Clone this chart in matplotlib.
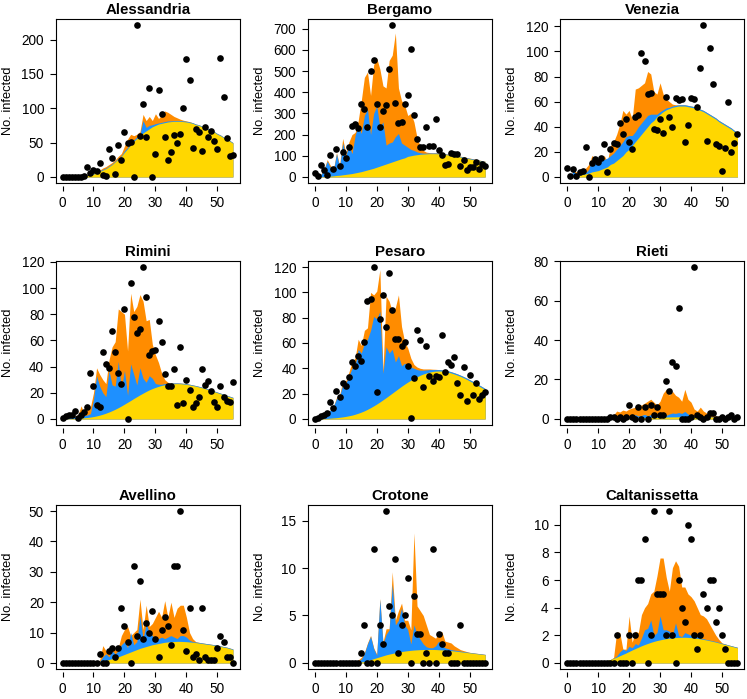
import numpy as np
import matplotlib
matplotlib.use("Agg")
import matplotlib.pyplot as plt

plt.rcParams['font.family'] = ['Liberation Sans', 'DejaVu Sans']

days = list(range(56))
x_ticks = [0, 10, 20, 30, 40, 50]

# ---------------- Alessandria ----------------
ales_pts = [0, 0, 0, 0, 0, 0, 0, 1, 15, 6,
            10, 9, 20, 3, 2, 40, 27, 4, 46, 25,
            66, 50, 51, 0, 221, 59, 106, 58, 129, 0,
            34, 126, 91, 58, 25, 37, 61, 50, 63, 100,
            172, 141, 42, 70, 65, 38, 72, 58, 67, 52,
            40, 173, 116, 56, 31, 32]
ales_yel = [0, 0, 0, 0, 0, 0, 0.5, 1, 2, 3,
            4, 6, 8, 10, 12, 15, 18, 22, 26, 30,
            36, 41, 47, 52, 56, 60, 64, 67, 70, 73,
            75, 77, 78, 79, 80, 80.5, 81, 81, 81, 80.5,
            80, 79, 78, 76, 75, 73, 71, 69, 67, 65,
            62, 60, 57, 55, 52, 49]
ales_blu = [0, 0, 0, 0, 0, 0, 0.8, 1.8, 3, 4,
            5, 7, 9, 11, 13, 16, 19, 23, 27, 31,
            38, 43, 49, 54, 58, 62, 82, 72, 75, 76,
            77.5, 78.5, 79.5, 80.5, 81.5, 81.5, 82, 82, 82, 81.5,
            81, 80, 79, 77, 76, 74, 72, 70, 68, 66,
            63, 61, 58, 56, 53, 50]
ales_org = [0, 0, 0, 0, 0, 0, 1, 2.5, 4, 5,
            6, 8, 10, 13, 15, 18, 21, 25, 30, 34,
            45, 55, 62, 60, 62, 66, 91, 82, 88, 82,
            92, 85, 90, 96, 94, 91, 88, 86, 84, 82.5,
            81.5, 80.5, 79, 77, 76, 74, 72, 70, 68, 66,
            63, 61, 58, 56, 53, 50]
ales_yt = [0, 50, 100, 150, 200]

# ---------------- Bergamo ----------------
berg_pts = [20, 3, 55, 33, 9, 102, 36, 132, 53, 116,
            90, 140, 239, 248, 230, 344, 322, 234, 499, 554,
            344, 236, 313, 341, 511, 717, 349, 256, 258, 344,
            387, 604, 291, 179, 140, 140, 238, 145, 146, 274,
            126, 104, 55, 63, 113, 110, 108, 52, 82, 35,
            46, 46, 72, 39, 61, 52]
berg_yel = [0, 0.5, 1, 2, 3, 4, 5, 7, 8, 10,
            12, 14, 16, 19, 22, 25, 29, 33, 37, 41,
            46, 51, 56, 61, 66, 71, 76, 81, 86, 90,
            97, 100, 103, 105, 107, 108, 109, 110, 110, 110,
            109, 108, 106, 104, 102, 100, 97, 94, 91, 88,
            85, 82, 79, 76, 73, 70]
berg_blu = [0, 2, 12, 35, 75, 45, 30, 110, 45, 160,
            100, 150, 110, 195, 245, 205, 290, 320, 200, 300,
            335, 235, 260, 150, 160, 165, 190, 205, 160, 150,
            140, 130, 125, 118, 114, 112, 112, 113, 113, 113,
            112, 111, 109, 107, 105, 103, 100, 97, 94, 91,
            88, 85, 82, 79, 76, 73]
berg_org = [0, 3, 14, 38, 82, 55, 35, 115, 55, 182,
            110, 165, 200, 210, 265, 360, 470, 495, 385, 530,
            560, 510, 430, 420, 550, 575, 680, 420, 360, 340,
            290, 300, 260, 185, 145, 125, 117, 115, 114, 114,
            113, 112, 110, 108, 106, 104, 101, 98, 95, 92,
            89, 86, 83, 80, 77, 74]
berg_yt = [0, 100, 200, 300, 400, 500, 600, 700]

# ---------------- Venezia ----------------
vene_pts = [7, 1, 6, 1, 4, 5, 24, 0, 11, 14,
            12, 15, 26, 4, 22, 27, 26, 43, 34, 46,
            28, 22, 48, 49, 99, 92, 66, 67, 38, 37,
            46, 35, 64, 48, 40, 63, 61, 62, 28, 41,
            63, 62, 56, 87, 121, 29, 103, 74, 26, 25,
            5, 23, 60, 20, 27, 34]
vene_yel = [0, 0, 0.5, 1, 1.5, 2, 2.5, 3, 4, 4.5,
            5, 6, 7, 8, 10, 11, 13, 15, 17, 20,
            22, 25, 28, 31, 34, 37, 40, 43, 45, 48,
            50, 52, 53.5, 54.5, 55.5, 56, 56.5, 56.5, 56.5, 56,
            55.5, 55, 54, 53, 52, 50.5, 49, 47.5, 46, 44,
            42.5, 41, 39.5, 38, 36, 34]
vene_blu = [0, 0, 5, 2, 2, 3, 3.5, 6, 15, 12,
            12, 13, 14, 15, 17, 19, 22, 25, 28, 32,
            33, 33, 36, 40, 43, 46, 49, 50, 50, 50,
            52, 53.5, 55, 55.5, 56.5, 57, 57.5, 57.5, 57.5, 57,
            56.5, 56, 55, 54, 53, 51.5, 50, 48.5, 47, 45,
            43.5, 42, 40.5, 39, 37, 35]
vene_org = [0, 0, 5, 4, 5, 6, 7, 10, 17, 15,
            14, 15, 17, 12, 25, 28, 34, 42, 53, 50,
            53, 46, 70, 71, 73, 75, 84, 82, 68, 66,
            75, 66, 62, 60, 58, 57.5, 57.5, 57.5, 57.5, 57,
            56.5, 56, 55, 54, 53, 51.5, 50, 48.5, 47, 45,
            43.5, 42, 40.5, 39, 37, 35]
vene_yt = [0, 20, 40, 60, 80, 100, 120]

# ---------------- Rimini ----------------
rimi_pts = [1, 2, 3, 3, 6, 1, 3, 5, 9, 35,
            25, 11, 9, 51, 42, 39, 67, 51, 35, 27,
            84, 0, 104, 78, 66, 69, 116, 93, 49, 52,
            53, 75, 59, 34, 25, 25, 38, 11, 55, 12,
            30, 22, 9, 12, 17, 38, 26, 29, 21, 13,
            9, 25, 17, 14, 13, 28]
rimi_yel = [0, 0, 0.2, 0.3, 0.4, 0.5, 0.7, 0.9, 1.1, 1.4,
            1.8, 2.3, 2.9, 3.6, 4.4, 5.3, 6.3, 7.4, 8.6, 9.9,
            11.3, 12.7, 14.1, 15.6, 17, 18.4, 19.7, 21, 22.2, 23.2,
            24.1, 24.9, 25.6, 26.1, 26.5, 26.8, 26.9, 27, 26.9, 26.7,
            26.4, 26, 25.5, 25, 24.4, 23.8, 23.1, 22.4, 21.6, 20.8,
            20, 19.2, 18.4, 17.6, 16.8, 16]
rimi_blu = [0, 0, 1, 1.5, 2, 2, 5, 2.5, 3, 4,
            15, 33, 25, 20, 17, 37, 26, 25, 44, 23,
            37, 18, 42, 34, 26, 39, 31, 28, 33, 31,
            27, 26.5, 26.5, 27, 27.2, 27.4, 27.5, 27.5, 27.4, 27.2,
            26.9, 26.5, 26, 25.5, 24.9, 24.3, 23.6, 22.9, 22.1, 21.3,
            20.5, 19.7, 18.9, 18.1, 17.3, 16.5]
rimi_org = [0, 0, 1.5, 2, 2.5, 3, 10, 4, 7, 9,
            20, 39, 34, 30, 27, 45, 55, 59, 84, 82,
            80, 52, 96, 82, 86, 95, 90, 75, 76, 57,
            49, 43, 35, 30, 28, 27.5, 27.5, 27.5, 27.4, 27.2,
            26.9, 26.5, 26, 25.5, 24.9, 24.3, 23.6, 22.9, 22.1, 21.3,
            20.5, 19.7, 18.9, 18.1, 17.3, 16.5]
rimi_yt = [0, 20, 40, 60, 80, 100, 120]

# ---------------- Pesaro ----------------
pesa_pts = [0, 1, 2, 3, 5, 13, 9, 22, 17, 28,
            26, 33, 45, 42, 50, 46, 61, 93, 95, 120,
            21, 79, 98, 73, 115, 86, 63, 63, 58, 61,
            42, 1, 32, 70, 62, 25, 58, 34, 30, 34,
            33, 66, 37, 45, 43, 49, 28, 19, 41, 14,
            35, 19, 28, 16, 19, 21]
pesa_yel = [0, 0, 0.2, 0.3, 0.4, 0.6, 0.8, 1, 1.3, 1.6,
            2, 2.5, 3, 3.7, 4.5, 5.4, 6.4, 7.6, 8.9, 10.3,
            11.8, 13.4, 15.1, 16.8, 18.6, 20.4, 22.2, 24, 25.8, 27.5,
            29.1, 30.6, 32, 33.3, 34.5, 35.5, 36.3, 37, 37.5, 37.8,
            37.9, 37.8, 37.5, 37, 36.3, 35.5, 34.6, 33.6, 32.5, 31.3,
            30, 28.7, 27.3, 25.9, 24.5, 23]
pesa_blu = [0, 0.5, 1, 3, 5, 7, 10, 16, 18, 27,
            28, 34, 40, 42, 55, 52, 60, 63, 70, 81,
            79, 85, 36, 57, 52, 55, 45, 50, 42, 44,
            42, 41, 40, 39, 38.5, 38.5, 38.7, 39, 39, 39,
            39, 38.8, 38.5, 38, 37.3, 36.5, 35.6, 34.6, 33.5, 32.3,
            31, 29.7, 28.3, 26.9, 25.5, 24]
pesa_org = [0, 0.5, 1, 3, 5, 7, 10, 17, 19, 30,
            30, 37, 45, 48, 63, 58, 70, 72, 100, 98,
            101, 118, 38, 97, 93, 85, 88, 98, 73, 61,
            56, 48, 43, 41, 40, 39.5, 39.5, 39.5, 39.3, 39.2,
            39, 38.8, 38.5, 38, 37.3, 36.5, 35.6, 34.6, 33.5, 32.3,
            31, 29.7, 28.3, 26.9, 25.5, 24]
pesa_yt = [0, 20, 40, 60, 80, 100, 120]

# ---------------- Rieti ----------------
riet_pts = [0, 0, 0, 0, 0, 0, 0, 0, 0, 0,
            0, 0, 0, 0, 1, 1, 0, 1, 0, 1,
            7, 1, 0, 6, 0, 6, 0, 7, 2, 6,
            2, 2, 19, 14, 29, 27, 56, 0, 0, 0,
            1, 77, 2, 1, 0, 1, 3, 3, 0, 0,
            1, 0, 1, 2, 0, 1]
riet_yel = [0, 0, 0, 0, 0, 0, 0, 0, 0, 0,
            0, 0, 0, 0.05, 0.1, 0.15, 0.2, 0.25, 0.3, 0.35,
            0.4, 0.45, 0.5, 0.55, 0.6, 0.65, 0.7, 0.75, 0.8, 0.85,
            0.9, 0.95, 1, 1, 1.05, 1.05, 1.1, 1.1, 1.1, 1.1,
            1.1, 1.05, 1.05, 1, 1, 0.95, 0.9, 0.9, 0.85, 0.8,
            0.75, 0.7, 0.7, 0.65, 0.6, 0.55]
riet_blu = [0, 0, 0, 0, 0, 0, 0, 0, 0, 0,
            0, 0, 0, 0.1, 0.3, 0.8, 1.2, 1, 1.3, 1.2,
            1.5, 1.3, 2.2, 1.5, 1.8, 2.3, 1.6, 2.2, 1.7, 1.6,
            1.6, 1.5, 1.8, 2.5, 3, 2.8, 3.2, 2.8, 3.8, 2.5,
            1.4, 1.3, 1.3, 1.2, 1.2, 1.1, 1, 1, 0.95, 0.9,
            0.85, 0.8, 0.8, 0.75, 0.7, 0.65]
riet_org = [0, 0, 0, 0, 0, 0, 0, 0, 0, 0,
            0, 0, 0, 0.2, 1, 2, 4, 3.5, 4.5, 4,
            5, 5.5, 6, 7, 7, 8, 9, 10, 8.5, 7,
            9, 13, 15, 12, 14, 12, 11, 9, 15, 10,
            8.5, 5, 4, 6, 4, 3, 2.5, 2, 1.5, 1.2,
            1, 0.9, 0.85, 0.8, 0.7, 0.65]
riet_yt = [0, 20, 40, 60, 80]

# ---------------- Avellino ----------------
avel_pts = [0, 0, 0, 0, 0, 0, 0, 0, 0, 0,
            0, 0, 3, 0, 0, 4, 5, 2, 5, 18,
            12, 7, 0, 32, 9, 27, 8, 13, 10, 17,
            8, 2, 11, 15, 12, 6, 32, 32, 50, 11,
            4, 18, 2, 3, 1, 18, 2, 1, 1, 1,
            5, 9, 7, 2, 2, 0]
avel_yel = [0, 0, 0, 0, 0, 0, 0, 0, 0, 0,
            0, 0, 0.3, 0.5, 0.8, 1.1, 1.4, 1.7, 2, 2.4,
            2.8, 3.2, 3.6, 4, 4.4, 4.8, 5.1, 5.4, 5.7, 6,
            6.2, 6.4, 6.6, 6.8, 6.9, 7, 7.05, 7.1, 7.1, 7.05,
            7, 6.9, 6.8, 6.7, 6.55, 6.4, 6.25, 6.1, 5.95, 5.8,
            5.6, 5.4, 5.2, 5, 4.7, 4.4]
avel_blu = [0, 0, 0, 0, 0, 0, 0, 0, 0, 0,
            0, 0, 0.5, 2, 3, 2, 4, 3, 4, 6,
            7, 5, 10, 6, 7, 15.5, 8, 13, 10, 9,
            7.5, 8, 8.5, 8, 8.5, 9, 8.5, 8, 9, 9,
            8.5, 7.5, 7, 6.9, 6.75, 6.6, 6.45, 6.3, 6.15, 6,
            5.8, 5.6, 5.4, 5.2, 4.9, 4.6]
avel_org = [0, 0, 0, 0, 0, 0, 0, 0, 0, 0,
            0, 0, 1, 5.7, 4, 3, 4.5, 4.5, 5, 9,
            11, 12, 9, 10, 11, 21, 11, 19, 12, 13,
            15, 17, 15, 20.5, 15, 20, 15, 18, 19, 19,
            15, 10, 8, 7, 6.8, 6.6, 6.45, 6.3, 6.15, 6,
            5.8, 5.6, 5.4, 5.2, 4.9, 4.6]
avel_yt = [0, 10, 20, 30, 40, 50]

# ---------------- Crotone ----------------
crot_pts = [0, 0, 0, 0, 0, 0, 0, 0, 0, 0,
            0, 0, 0, 0, 0, 1, 4, 0, 0, 12,
            0, 4, 2, 16, 6, 5, 11, 1, 4, 5,
            9, 0, 7, 3, 3, 0, 1, 0, 12, 0,
            3, 2, 1, 1, 0, 0, 0, 4, 0, 0,
            0, 0, 0, 0, 0, 0]
crot_yel = [0, 0, 0, 0, 0, 0, 0, 0, 0, 0,
            0, 0, 0, 0, 0.05, 0.1, 0.15, 0.25, 0.35, 0.45,
            0.55, 0.65, 0.75, 0.85, 0.93, 1, 1.07, 1.14, 1.2, 1.25,
            1.29, 1.33, 1.36, 1.38, 1.4, 1.41, 1.42, 1.42, 1.42, 1.41,
            1.39, 1.37, 1.35, 1.32, 1.29, 1.26, 1.22, 1.18, 1.14, 1.1,
            1.06, 1.02, 0.98, 0.94, 0.9, 0.86]
crot_blu = [0, 0, 0, 0, 0, 0, 0, 0, 0, 0,
            0, 0, 0, 0, 0.2, 0.4, 1, 2, 2.8, 1.5,
            0.8, 6.7, 2, 3, 3.5, 8.3, 4, 4.5, 5.8, 4,
            3.5, 2, 4, 3, 2.5, 2, 1.7, 1.6, 1.6, 1.8,
            2.3, 1.8, 1.6, 1.5, 1.4, 1.35, 1.3, 1.25, 1.2, 1.15,
            1.1, 1.06, 1.02, 0.98, 0.94, 0.9]
crot_org = [0, 0, 0, 0, 0, 0, 0, 0, 0, 0,
            0, 0, 0, 0, 0.3, 0.6, 1.1, 2.1, 2.9, 1.6,
            0.9, 6.8, 2.2, 3.6, 3.6, 9.6, 4.5, 5.5, 6.3, 4.5,
            4.5, 3.5, 13.7, 6, 5.5, 5, 4, 3, 2.8, 2.6,
            3.2, 3.3, 2.3, 2.2, 2.1, 1.8, 1.6, 1.4, 1.3, 1.2,
            1.12, 1.07, 1.03, 0.99, 0.95, 0.9]
crot_yt = [0, 5, 10, 15]

# ---------------- Caltanissetta ----------------
calt_pts = [0, 0, 0, 0, 0, 0, 0, 0, 0, 0,
            0, 0, 0, 0, 0, 0, 2, 0, 0, 0,
            2, 0, 2, 6, 6, 9, 0, 2, 11, 5,
            5, 5, 2, 11, 2, 0, 6, 4, 3, 10,
            9, 2, 1, 2, 5, 4, 6, 6, 3, 4,
            2, 1, 0, 0, 0, 0]
calt_yel = [0, 0, 0, 0, 0, 0, 0, 0, 0, 0.02,
            0.05, 0.08, 0.12, 0.18, 0.25, 0.33, 0.42, 0.52, 0.62, 0.72,
            0.83, 0.94, 1.04, 1.14, 1.24, 1.33, 1.41, 1.49, 1.56, 1.62,
            1.67, 1.72, 1.76, 1.79, 1.82, 1.84, 1.85, 1.86, 1.86, 1.85,
            1.83, 1.81, 1.78, 1.74, 1.7, 1.66, 1.61, 1.56, 1.51, 1.45,
            1.39, 1.33, 1.27, 1.21, 1.15, 1.09]
calt_blu = [0, 0, 0, 0, 0, 0, 0, 0, 0, 0.02,
            0.05, 0.08, 0.12, 0.18, 0.25, 0.35, 0.5, 0.8, 1.0, 0.9,
            1.2, 1.1, 1.4, 1.3, 1.8, 2.4, 2.5, 3.1, 2, 2.2,
            3.4, 2.4, 2.4, 2.3, 2, 2.9, 2, 1.9, 2.2, 2.1,
            2, 2, 1.9, 1.8, 1.75, 1.7, 1.65, 1.6, 1.55, 1.49,
            1.43, 1.37, 1.31, 1.25, 1.19, 1.13]
calt_org = [0, 0, 0, 0, 0, 0, 0, 0, 0, 0.02,
            0.05, 0.08, 0.12, 0.18, 0.25, 0.4, 2.25, 2.2, 1, 1,
            3.4, 1.5, 2.3, 2.2, 3.5, 4, 4.3, 5, 5.2, 6.3,
            7.6, 7.6, 6.2, 5.2, 6.9, 7.4, 7, 5.5, 5.5, 5,
            4.8, 4.5, 4, 3.5, 3.4, 3.2, 2.8, 2.4, 2, 1.7,
            1.45, 1.38, 1.31, 1.25, 1.19, 1.13]
calt_yt = [0, 2, 4, 6, 8, 10]

titles = ["Alessandria", "Bergamo", "Venezia",
          "Rimini", "Pesaro", "Rieti",
          "Avellino", "Crotone", "Caltanissetta"]
panel_data = [
    (ales_pts, ales_yel, ales_blu, ales_org, ales_yt),
    (berg_pts, berg_yel, berg_blu, berg_org, berg_yt),
    (vene_pts, vene_yel, vene_blu, vene_org, vene_yt),
    (rimi_pts, rimi_yel, rimi_blu, rimi_org, rimi_yt),
    (pesa_pts, pesa_yel, pesa_blu, pesa_org, pesa_yt),
    (riet_pts, riet_yel, riet_blu, riet_org, riet_yt),
    (avel_pts, avel_yel, avel_blu, avel_org, avel_yt),
    (crot_pts, crot_yel, crot_blu, crot_org, crot_yt),
    (calt_pts, calt_yel, calt_blu, calt_org, calt_yt),
]

YELLOW = "#FFD700"
BLUE = "#1E90FF"
ORANGE = "#FF8C00"

W, H = 747, 699
fig = plt.figure(figsize=(W / 100, H / 100), dpi=100)
col_left = [55.7, 308, 560.3]
row_top = [19, 261, 505]
ax_w, ax_h = 184, 164

for i, (title, (pts, yel, blu, org, yt)) in enumerate(zip(titles, panel_data)):
    r, c = divmod(i, 3)
    left = col_left[c]
    top = row_top[r]
    ax = fig.add_axes([left / W, 1 - (top + ax_h) / H, ax_w / W, ax_h / H])
    ax.fill_between(days, 0, org, color=ORANGE, lw=0)
    ax.fill_between(days, 0, blu, color=BLUE, lw=0)
    ax.fill_between(days, 0, yel, color=YELLOW, lw=0)
    ax.plot(days, pts, 'o', color='black', ms=4.8, mec='none')
    mx = max(pts)
    ax.set_xlim(-2.2, 57.2)
    ax.set_ylim(-0.04 * mx, 1.04 * mx)
    ax.set_yticks(yt)
    ax.set_yticklabels([str(v) for v in yt])
    ax.tick_params(axis='y', direction='out', length=4.4, width=0.8,
                   labelsize=9.8, pad=4.0, colors='black')
    ax.tick_params(axis='x', bottom=False, labelbottom=False)
    for s in ax.spines.values():
        s.set_linewidth(0.8)
        s.set_color('black')
    sec = ax.secondary_xaxis(-0.018)
    sec.set_xticks(x_ticks)
    sec.set_xticklabels([str(v) for v in x_ticks])
    for s in sec.spines.values():
        s.set_visible(False)
    sec.tick_params(axis='x', direction='out', length=3.6, width=0.8,
                    labelsize=9.8, pad=3.6)
    ax.set_title(title, fontsize=10.8, fontweight='bold', pad=3.5)
    ax.set_ylabel("No. infected", fontsize=9.3)
    ax.yaxis.set_label_coords(-42 / ax_w, 0.5)

fig.savefig("out.png", dpi=100)
